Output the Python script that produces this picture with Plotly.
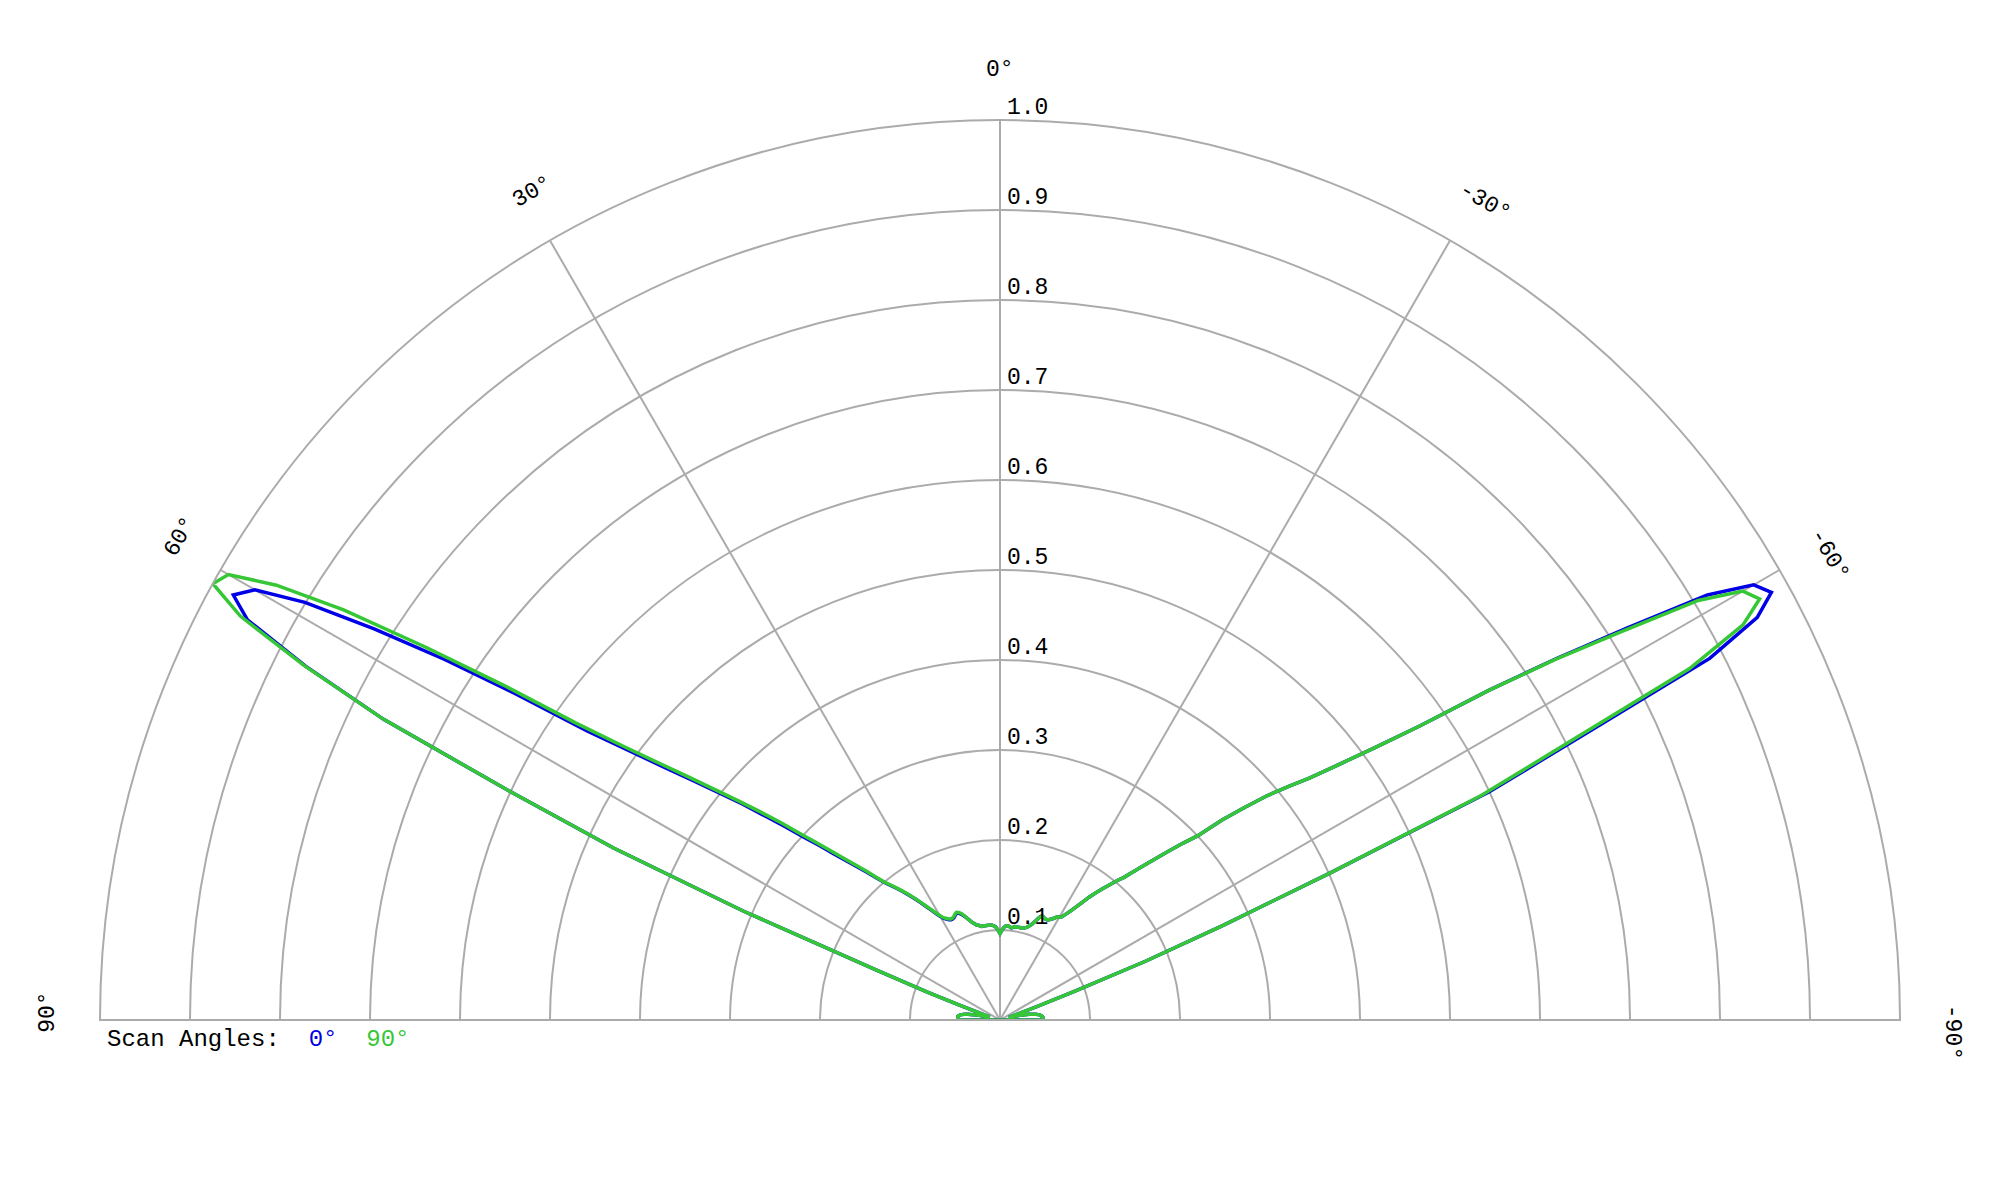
import math
import plotly.graph_objects

###############################################################################
#                                   DATA                                      #
###############################################################################

# beam angle in degrees, 0 = broadside (top), +90 = left, -90 = right
THETA = list(range(-90, 91))

# normalised pattern, scan angle 0 deg (blue)
GAIN_SCAN_0 = [
    0.048, 0.048, 0.048, 0.048, 0.047, 0.047, 0.046, 0.045, 0.043, 0.040,  # -90..-81
    0.037, 0.033, 0.028, 0.023, 0.018, 0.014, 0.012, 0.012, 0.015, 0.025,  # -80..-71
    0.045, 0.090, 0.175, 0.270, 0.400, 0.600, 0.715, 0.885, 0.953, 0.980,  # -70..-61
    0.967, 0.917, 0.822, 0.738, 0.655, 0.570, 0.515, 0.472, 0.437, 0.412,  # -60..-51
    0.388, 0.360, 0.332, 0.300, 0.283, 0.266, 0.250, 0.235, 0.222, 0.210,  # -50..-41
    0.202, 0.193, 0.185, 0.177, 0.169, 0.160, 0.152, 0.145, 0.139, 0.134,  # -40..-31
    0.132, 0.131, 0.128, 0.126, 0.124, 0.123, 0.123, 0.124, 0.125, 0.122,  # -30..-21
    0.118, 0.114, 0.111, 0.109, 0.107, 0.106, 0.105, 0.105, 0.105, 0.105,  # -20..-11
    0.105, 0.105, 0.104, 0.103, 0.104, 0.105, 0.105, 0.104, 0.102, 0.099,  # -10..-1
    0.096,                                                                 # 0
    0.099, 0.102, 0.104, 0.105, 0.106, 0.106, 0.106, 0.106, 0.106, 0.106,  # 1..10
    0.106, 0.107, 0.108, 0.109, 0.111, 0.113, 0.116, 0.119, 0.122, 0.125,  # 11..20
    0.127, 0.128, 0.127, 0.125, 0.124, 0.124, 0.125, 0.127, 0.129, 0.133,  # 21..30
    0.138, 0.144, 0.150, 0.157, 0.164, 0.171, 0.178, 0.185, 0.192, 0.199,  # 31..40
    0.209, 0.221, 0.233, 0.246, 0.261, 0.279, 0.298, 0.321, 0.345, 0.373,  # 41..50
    0.400, 0.431, 0.466, 0.508, 0.560, 0.645, 0.735, 0.820, 0.901, 0.956,  # 51..60
    0.974, 0.947, 0.866, 0.762, 0.600, 0.470, 0.310, 0.150, 0.085, 0.045,  # 61..70
    0.025, 0.016, 0.013, 0.012, 0.013, 0.016, 0.021, 0.026, 0.031, 0.036,  # 71..80
    0.040, 0.043, 0.045, 0.046, 0.047, 0.047, 0.047, 0.047, 0.047, 0.047,  # 81..90
]

# normalised pattern, scan angle 90 deg (green)
GAIN_SCAN_90 = [
    0.048, 0.048, 0.048, 0.048, 0.047, 0.047, 0.046, 0.045, 0.043, 0.040,  # -90..-81
    0.037, 0.033, 0.028, 0.023, 0.018, 0.014, 0.012, 0.012, 0.015, 0.025,  # -80..-71
    0.045, 0.090, 0.175, 0.270, 0.400, 0.590, 0.700, 0.860, 0.935, 0.965,  # -70..-61
    0.953, 0.905, 0.815, 0.735, 0.655, 0.570, 0.515, 0.472, 0.437, 0.412,  # -60..-51
    0.388, 0.360, 0.332, 0.300, 0.283, 0.266, 0.250, 0.235, 0.222, 0.210,  # -50..-41
    0.202, 0.193, 0.185, 0.177, 0.169, 0.160, 0.152, 0.145, 0.139, 0.134,  # -40..-31
    0.132, 0.131, 0.128, 0.126, 0.124, 0.123, 0.123, 0.124, 0.125, 0.122,  # -30..-21
    0.118, 0.114, 0.111, 0.109, 0.107, 0.106, 0.105, 0.105, 0.105, 0.105,  # -20..-11
    0.105, 0.105, 0.104, 0.103, 0.104, 0.105, 0.105, 0.104, 0.102, 0.099,  # -10..-1
    0.096,                                                                 # 0
    0.099, 0.102, 0.104, 0.105, 0.106, 0.106, 0.106, 0.106, 0.106, 0.106,  # 1..10
    0.106, 0.107, 0.108, 0.109, 0.111, 0.113, 0.116, 0.119, 0.123, 0.126,  # 11..20
    0.128, 0.129, 0.128, 0.126, 0.125, 0.125, 0.126, 0.128, 0.130, 0.134,  # 21..30
    0.139, 0.145, 0.151, 0.158, 0.165, 0.172, 0.179, 0.186, 0.193, 0.200,  # 31..40
    0.211, 0.223, 0.236, 0.250, 0.266, 0.284, 0.304, 0.328, 0.352, 0.378,  # 41..50
    0.406, 0.438, 0.474, 0.518, 0.575, 0.665, 0.760, 0.860, 0.938, 0.990,  # 51..60
    1.000, 0.956, 0.868, 0.762, 0.600, 0.470, 0.310, 0.150, 0.085, 0.045,  # 61..70
    0.025, 0.016, 0.013, 0.012, 0.013, 0.016, 0.021, 0.026, 0.031, 0.036,  # 71..80
    0.040, 0.043, 0.045, 0.046, 0.047, 0.047, 0.047, 0.047, 0.047, 0.047,  # 81..90
]

RADIAL_TICKS = [0.1, 0.2, 0.3, 0.4, 0.5, 0.6, 0.7, 0.8, 0.9, 1.0]
RADIAL_LABELS = ["0.1", "0.2", "0.3", "0.4", "0.5", "0.6", "0.7", "0.8", "0.9", "1.0"]

ANGLE_TICKS = [90, 60, 30, 0, -30, -60, -90]
ANGLE_LABELS = ["90°", "60°", "30°", "0°", "-30°", "-60°", "-90°"]

SCAN_NAMES = ["0°", "90°"]

FONT = "Courier New, Liberation Mono, monospace"
GRID_COLOR = "#ababab"
BLUE = "#0000e6"
GREEN = "#36c736"

# plot area 1800 x 900 px -> half disc of radius 900 px
# (page body adds 8px, so margins are shifted back by that)
WIDTH, HEIGHT = 2000, 1200
MARGIN = {"l": 92, "r": 108, "t": 112, "b": 188, "pad": 0}
LABEL_RADIUS = 1.058
LABEL_SLIDE = 10  # px along the reading direction

###############################################################################
#                                CREATE GRAPH                                 #
###############################################################################

fig = plotly.graph_objects.Figure()

for gains, color in [(GAIN_SCAN_0, BLUE), (GAIN_SCAN_90, GREEN)]:
    # trace is drawn closed, last point joins the first along the baseline
    fig.add_trace(plotly.graph_objects.Scatterpolar(
        r=gains + gains[:1], theta=THETA + THETA[:1], mode="lines",
        line={"color": color, "width": 3.5}, hoverinfo="skip", showlegend=False))

annotations = []

# radial labels sit just right of the 0 deg spoke (paper y == radius there)
for tick, label in zip(RADIAL_TICKS, RADIAL_LABELS):
    annotations.append(dict(
        x=0.5, y=tick, xref="paper", yref="paper", text=label, showarrow=False,
        xanchor="left", yanchor="bottom", xshift=5, yshift=-3,
        font={"family": FONT, "size": 23, "color": "black"}))

# angular labels follow the arc, so they are rotated annotations
for angle, label in zip(ANGLE_TICKS, ANGLE_LABELS):
    rad = math.radians(angle)
    slide = LABEL_SLIDE if angle != 0 else 0
    annotations.append(dict(
        x=0.5 - 0.5 * LABEL_RADIUS * math.sin(rad), y=LABEL_RADIUS * math.cos(rad),
        xref="paper", yref="paper", text=label, showarrow=False, textangle=-angle,
        xshift=slide * math.cos(rad), yshift=slide * math.sin(rad) - 2,
        xanchor="center", yanchor="middle", font={"family": FONT, "size": 23, "color": "black"}))

legend_text = "Scan\u00a0Angles:\u00a0\u00a0<span style='color:{}'>{}</span>\u00a0\u00a0<span style='color:{}'>{}</span>".format(
    BLUE, SCAN_NAMES[0], GREEN, SCAN_NAMES[1])
annotations.append(dict(
    x=0.003, y=-0.022, xref="paper", yref="paper", text=legend_text, showarrow=False,
    xanchor="left", yanchor="middle", font={"family": FONT, "size": 24, "color": "black"}))

fig.update_layout(
    width=WIDTH, height=HEIGHT, margin=MARGIN,
    paper_bgcolor="white", plot_bgcolor="white", showlegend=False,
    annotations=annotations,
    polar=dict(
        bgcolor="white",
        sector=[0, 180],
        domain={"x": [0, 1], "y": [0, 1]},
        radialaxis=dict(range=[0, 1], tick0=0, dtick=0.1, showline=False, showticklabels=False,
                        ticks="", gridcolor=GRID_COLOR, gridwidth=2),
        angularaxis=dict(rotation=90, direction="counterclockwise", tickmode="array",
                         tickvals=ANGLE_TICKS, showticklabels=False, ticks="",
                         showline=True, linecolor=GRID_COLOR, linewidth=2,
                         gridcolor=GRID_COLOR, gridwidth=2),
    ),
)

fig.write_html("out.html")
